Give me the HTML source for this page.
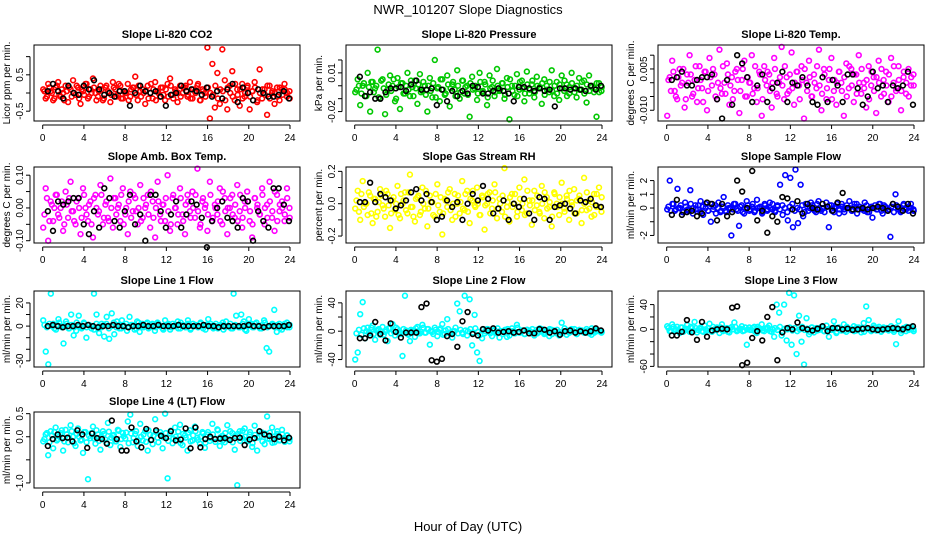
<!DOCTYPE html>
<html>
<head>
<meta charset="utf-8">
<style>
html,body{margin:0;padding:0;background:#fff;}
svg{display:block;font-family:"Liberation Sans",Arial,sans-serif;}
</style>
</head>
<body>
<svg id="chart" width="936" height="540" viewBox="0 0 936 540" xmlns="http://www.w3.org/2000/svg">
<rect x="0" y="0" width="936" height="540" fill="#fff"/>
<text x="468" y="14" text-anchor="middle" font-size="13" fill="#000">NWR_101207  Slope Diagnostics</text>
<text x="468" y="531" text-anchor="middle" font-size="13" fill="#000">Hour of Day (UTC)</text>
</svg>
<script>
// ---- data (values in display units; multiply by scale) ----
const co2Vals=[10,-15,25,5,-20,15,30,-10,0,20,-25,10,35,-5,15,-30,5,25,-15,10,40,0,-10,20,-20,15,5,-25,30,10,-5,20,-15,0,25,-10,15,45,-20,5,10,-30,20,0,-15,30,5,-10,15,-20,25,40,-5,10,-25,20,0,15,-10,30,-15,5,20,-20,10,0,125,-70,80,-40,55,-30,120,35,-45,20,60,-20,10,-35,25,-10,15,-45,5,30,-25,65,-15,10,-60,20,0,-30,15,-20,10,25,-10,5];
const co2Core=[5,-10,15,0,-15,20,-5,10,-20,5,15,-10,0,20,-15,10,-5,25,-10,0,15,-20,5,10,-15,20,0,-5,15,-10,25,-15,5,0,-20,10,15,-5,20,-10,0,5,-15,25,10,-20,0,15,-5,10,-10,20,-15,5,0,-10,15,20,-5,-15,10,0,25,-20,5,-10,15,0,-5,20,-15,10,5,-20,15,0,-10,25,-5,10,-15,0,20,-10,5,15,-20,0,10,-5,20,-15,5,0,-10,15,-5,10,0,-15];
const co2Black=[5,25,5,-15,20,0,-5,20,10,35,10,-5,0,-10,5,5,-35,0,20,5,0,5,-10,-35,-5,0,20,5,10,5,-5,15,-10,5,-15,10,25,-25,15,0,-20,10,0,-10,-10,-5,5,-15];
const presVals=[-5,5,-15,0,-8,10,-20,3,-2,28,-10,5,-22,-3,8,0,-12,6,-18,2,-6,10,-8,-1,4,-14,9,-4,0,-20,6,-9,20,-2,-12,5,-7,8,-16,1,-3,12,-10,4,-6,0,-24,7,-2,-11,10,-5,3,-15,8,-1,-8,13,-4,2,-10,6,-26,0,-7,9,-3,4,-12,11,-6,1,-9,7,-2,-14,5,0,-5,12,-8,3,-11,8,-4,1,-6,10,-2,-9,6,-3,4,-13,8,-1,-5,-24,2,-4];
const presCore=[-3,0,-6,2,-8,-1,3,-5,0,-9,4,-2,-7,1,-4,5,-10,-1,2,-6,0,-3,4,-8,-2,1,-5,3,-7,0,-4,2,-9,-1,5,-3,-6,1,-2,3,-8,0,-5,4,-1,-7,2,-3,0,-6,3,-4,1,-9,-2,4,-5,0,-3,2,-7,-1,5,-4,0,-8,3,-2,-6,1,-3,4,-5,0,-1,2,-7,-3,3,-4,0,-6,1,-2,4,-8,-1,2,-5,0,-3,3,-6,1,-4,0,-2,2,-5,-1];
const presBlack=[7,-8,-5,-10,-10,-5,-2,-2,-1,-4,1,4,-3,-3,-2,-15,-3,-12,-4,-8,-4,-6,0,-1,-6,-6,-4,-2,-4,-6,-12,-1,-1,-2,-4,-2,-4,-3,-16,-2,-2,-3,-2,-3,-4,0,-3,0];
const ltempVals=[-12,2,8,-3,-6,5,0,-9,3,10,-5,1,-7,6,-2,4,-10,9,-1,3,-6,12,-4,0,7,-8,2,-3,5,-11,1,8,-5,0,10,-2,-7,4,-12,6,-1,3,-9,9,-4,0,13,-6,2,-3,11,-8,4,-1,6,-13,0,8,-5,3,-2,12,-10,5,-6,1,9,-3,-8,4,0,-12,7,-2,5,-7,3,10,-4,0,-9,6,-1,2,-11,8,-5,1,4,-7,9,0,-3,6,-10,2,-4,5,-1,3];
const ltempCore=[1,-3,4,-5,2,-1,5,-6,0,3,-4,6,-2,1,-7,4,-3,2,5,-5,0,-2,6,-4,3,-1,-6,4,1,-3,5,-5,2,0,-4,6,-2,3,-6,1,4,-3,0,5,-5,2,-1,6,-4,3,-2,0,4,-6,1,5,-3,2,-5,0,6,-1,-4,3,-2,5,-6,1,0,4,-3,2,-5,6,-1,3,-4,0,5,-2,1,-6,4,-3,2,0,5,-4,-1,3,-5,6,-2,1,-3,4,0,-5,2,-1];
const ltempBlack=[1,2,4,-1,-1,1,2,2,3,-6,-13,1,-8,10,7,2,-7,-1,3,-7,-2,0,4,-7,0,-1,2,-1,-7,-8,2,-7,1,-1,-7,3,3,-2,-8,-5,4,-2,-1,-7,-1,-2,-1,4,-8];
const ambVals=[-6,6,-10,2,-4,4,-2,0,-7,5,-3,8,-1,-5,3,-8,6,0,-4,2,-9,4,-2,7,-5,1,-3,9,-6,3,0,-4,6,-2,-8,5,-1,3,-5,7,-3,0,4,-6,2,-9,8,-2,1,-4,10,-7,3,0,-5,6,-2,-8,4,-1,5,-3,12,-6,2,0,-7,8,-4,1,-2,6,-5,3,-8,0,4,-3,7,-1,-6,2,5,-4,-9,3,0,-2,6,-5,1,8,-3,-7,4,-1,2,-4,6,0];
const ambCore=[-2,3,-4,1,0,4,-3,2,-5,1,3,-1,-4,2,0,-3,4,-2,1,-5,3,0,-1,4,-3,2,-4,0,3,-2,1,4,-5,0,2,-3,4,-1,0,-4,3,1,-2,5,-3,0,2,-4,1,3,-1,-5,4,0,-2,3,-4,1,2,-3,0,4,-1,-5,3,1,-2,4,-3,0,2,-4,5,-1,0,3,-2,1,-4,4,-3,0,2,-1,-5,3,1,-2,4,0,-3,2,-1,5,-4,1,0,-2,3,-3];
const ambBlack=[-1,-7,2,1,2,3,3,-5,-8,-1,-6,6,3,-4,-6,-1,4,-5,-2,-10,4,4,-1,-6,-2,2,-6,-2,2,1,-3,-12,-4,0,2,-3,-4,-6,3,2,-10,-1,-4,-6,6,6,1,-4];
const rhVals=[-3,8,-10,14,0,-7,5,-12,3,-5,9,-1,-8,6,-15,2,-4,11,-9,0,7,-6,18,-2,-11,4,-7,10,-3,-14,5,1,-8,12,-5,-19,3,-2,9,-10,6,0,-6,14,-4,8,-12,2,-1,10,-7,5,-16,0,7,-3,12,-9,3,-5,22,-2,-11,6,0,-8,10,-4,15,-6,2,-13,8,-1,-5,11,-9,4,-2,-14,7,0,-7,13,-3,5,-10,1,9,-6,3,-12,16,-4,2,-8,6,-2,10,-5];
const rhCore=[2,-5,6,-2,0,7,-6,3,-8,1,5,-3,8,-1,-6,4,0,-7,6,2,-4,7,-2,-8,3,5,-5,0,8,-3,1,-7,6,-1,4,-6,2,7,-4,0,-8,5,1,-3,6,-5,3,8,-2,0,-7,4,-1,6,-6,2,7,-3,0,5,-8,1,4,-2,6,-5,3,0,-7,8,-1,2,-4,5,-6,0,7,-3,1,-8,6,-2,4,0,-5,3,8,-1,-6,2,5,-4,0,7,-3,1,-7,6,-2,4];
const rhBlack=[1,1,13,1,6,4,2,-3,-1,2,7,9,2,6,1,-10,-8,2,-2,1,-10,0,6,2,11,3,-6,-3,2,-10,0,-2,3,-6,-10,4,3,-10,-2,-1,0,-3,-6,2,1,3,-1,-2];
const sampVals=[-1,20,3,-2,14,0,-3,4,-1,13,-4,2,-1,5,-5,3,-2,-10,1,-4,4,-2,8,-3,0,-20,3,-1,-13,2,-4,5,-2,1,-3,6,0,-4,3,-2,4,-1,-3,2,17,-5,24,-9,22,-14,28,-11,17,-6,3,-2,4,-1,-3,5,-2,0,4,-14,2,-3,1,-4,3,-1,0,5,-2,3,-4,1,-1,4,-3,0,-7,2,-1,3,-4,1,-2,-21,3,10,-1,-3,2,0,-2,3,-1];
const sampCore=[1,-2,3,-1,0,2,-3,1,-2,3,0,-1,2,-3,1,0,-2,3,-1,2,0,-3,1,-2,2,0,-1,3,-2,1,-3,0,2,-1,3,-2,0,1,-3,2,-1,0,3,-2,1,-1,2,0,-3,1,3,-2,0,-1,2,-3,1,0,2,-2,3,-1,0,-3,1,2,-2,0,3,-1,1,-3,2,0,-2,1,3,-1,0,-2,2,-3,1,0,-1,3,-2,2,0,-1,1,-3,2,0,-2,3,-1,1,0,-2];
const sampBlack=[-5,6,-5,-3,-2,-6,-4,4,3,-9,3,-6,-3,20,12,0,27,-9,-2,-18,-6,-10,8,7,-1,5,-4,3,0,-1,3,1,-2,4,11,0,-1,-1,0,-1,0,1,0,-2,3,1,-2,3,-4];
const l1Vals=[5,-22,-33,28,2,-3,6,0,-15,4,-2,10,-8,-4,9,-1,3,-10,1,-2,28,10,-6,2,-9,8,-11,11,-7,4,-2,5,0,-4,8,1,-3,4,-5,2,0,3,-1,2,-4,3,0,-2,5,1,-3,2,0,4,-2,1,-1,5,-3,2,0,-1,3,-2,1,6,0,-2,2,-1,1,-3,4,0,-2,28,9,-1,10,4,-4,6,2,-1,3,0,-2,5,-19,-22,1,14,-5,2,-3,0,3,-1];
const l1Core=[1,-1,2,0,-2,1,3,-1,0,2,-2,1,-1,3,0,-2,2,-1,1,0,-3,2,0,-1,1,2,-2,0,3,-1,1,-2,0,2,-1,1,0,-2,3,0,-1,2,-2,1,0,-1,2,0,-3,1,2,-1,0,1,-2,3,0,-1,2,-2,0,1,-1,2,0,-3,1,2,-1,0,-2,1,3,-1,0,2,-2,1,0,-1,2,-3,0,1,-1,2,0,-2,1,3,-1,0,2,-1,1,-2,0,2,-1,1];
const l1Black=[0,1,0,-1,0,0,1,0,1,0,-1,0,0,1,0,0,-1,0,0,1,0,0,1,0,0,0,1,0,0,0,0,1,0,0,-1,0,0,0,0,0,1,0,0,-1,0,0,0,0,1];
const l2Vals=[-40,-30,24,41,-10,5,-3,8,-12,2,-5,6,-1,-14,4,10,-6,3,-2,-35,50,-4,-14,1,-8,6,-3,9,-2,3,-19,-1,5,-7,2,10,-4,17,-3,-9,0,39,28,-2,50,-6,45,-20,23,-30,-42,-10,-3,3,-1,-7,2,-3,-9,0,1,-8,-6,4,-3,9,-2,1,-4,2,0,-3,-6,2,-1,3,-4,0,-7,2,1,-3,-6,12,0,-5,-2,3,-1,-4,1,0,-2,3,-1,-5,2,0,1,-2];
const l2Core=[-3,2,-5,4,0,-2,5,-4,1,3,-1,-5,2,4,-3,0,5,-2,-4,3,1,-5,2,0,4,-3,-1,5,-2,3,0,-4,2,-1,4,-5,1,3,-2,0,5,-3,2,-4,1,0,3,-2,4,-1,-5,2,0,3,-3,1,-2,4,0,-4,2,3,-1,0,-3,5,-2,1,-4,2,0,3,-1,-3,4,0,-2,1,3,-4,0,2,-1,-3,4,1,-2,0,3,-4,2,1,-1,0,-3,4,-2,2,0,-1];
const l2Black=[-10,-10,-6,13,-4,-13,11,-1,-9,-2,-2,-2,34,39,-41,-43,-39,-7,-4,-22,14,27,-4,-6,3,1,4,-2,-1,0,-2,-1,1,-3,-3,3,2,-2,0,-5,0,1,-2,0,-2,0,4,1];
const l3Vals=[5,-3,8,-2,4,-6,3,-1,7,-4,2,12,-5,1,-3,6,-2,9,-4,0,3,-6,8,-1,2,-5,4,11,-3,0,5,-2,-25,3,-1,4,-6,2,8,-3,1,6,-4,-12,40,27,-10,40,-18,59,-25,55,-40,22,-20,-57,18,-8,3,-5,2,-1,4,-3,6,-12,0,13,-6,3,-2,8,-4,1,-1,5,-2,3,-5,10,37,15,-3,6,-2,1,-4,3,0,-2,5,-1,-24,13,-6,2,-3,1,4,0];
const l3Core=[2,-3,4,0,-2,3,-4,1,0,4,-3,2,-1,3,-4,0,2,-2,4,-1,0,3,-3,1,-4,2,0,4,-2,1,-3,3,0,-1,2,-4,4,0,-2,1,3,-3,0,2,-1,4,-4,1,0,3,-2,2,-3,0,4,-1,1,-4,3,0,-2,2,4,-3,0,1,-1,3,-4,2,0,-2,4,-1,1,-3,3,0,2,-4,1,0,-2,3,-1,4,-3,0,2,-1,1,-4,3,0,-2,2,4,-1,0,-3];
const l3Black=[-10,-10,-4,15,-5,-17,12,-12,-2,0,1,0,35,37,-58,-54,-14,-3,-18,20,36,-50,-5,2,0,11,2,0,-2,1,5,-3,2,2,0,1,-1,0,1,2,0,-1,0,1,2,1,0,3,5];
const l4Vals=[-10,5,-40,12,-25,20,-5,8,-30,15,-12,25,0,-20,18,-8,-35,10,-92,-3,22,-15,5,-28,12,-6,30,-18,2,-10,15,-22,8,-4,33,48,-12,6,-20,28,-8,12,-30,4,-16,38,-2,10,-25,50,-90,7,-14,20,-6,26,-18,3,-30,14,-8,22,-2,-15,10,-24,5,-9,28,-4,16,-20,2,-12,25,-6,8,-28,-105,12,-3,18,-10,5,-22,24,-30,0,9,-16,44,-5,20,-12,6,-8,15,-2,3,-10];
const l4Core=[-5,8,-12,3,10,-8,0,14,-10,5,-3,12,-14,6,0,-6,10,-12,2,8,-4,14,-9,0,6,-13,11,-2,4,-10,13,-5,1,9,-14,7,-3,12,-8,0,5,-11,14,-6,2,10,-12,4,-1,8,-9,13,-4,0,11,-14,6,-2,9,-10,3,12,-7,0,7,-13,10,-3,5,-11,14,-1,-8,8,-5,12,-12,2,6,-9,13,0,-6,10,-14,4,-2,11,-10,7,-4,9,-13,1,12,-7,5,-11,3,-4];
const l4Black=[-20,-5,5,-3,-2,-10,14,5,-24,7,-3,-5,-15,35,-5,-30,-30,20,-10,-23,17,-7,14,2,-3,12,-8,-6,18,-25,20,-23,-5,0,-5,-4,-3,-7,-3,-2,-18,-6,-3,12,5,2,-5,0,-8,-2];
const xTickVals=[0,4,8,12,16,20,24];

// ---- panel layout ----
const panels=[
 {name:'co2',title:'Slope Li-820 CO2',yl:'Licor ppm per min.',col:0,row:0,vals:co2Vals,core:co2Core,blk:co2Black,sc:0.01,lo:-0.77,hi:1.32,ticks:[-0.5,0,0.5,1],labs:{'-0.5':'-0.5','0.5':'0.5'},color:'#ff0000'},
 {name:'pressure',title:'Slope Li-820 Pressure',yl:'kPa per min.',col:1,row:0,vals:presVals,core:presCore,blk:presBlack,sc:0.001,lo:-0.0273,hi:0.0316,ticks:[-0.02,-0.01,0,0.01,0.02],labs:{'-0.02':'-0.02','0.01':'0.01'},color:'#00c800'},
 {name:'li820-temp',title:'Slope Li-820 Temp.',yl:'degrees C per min.',col:2,row:0,vals:ltempVals,core:ltempCore,blk:ltempBlack,sc:0.001,lo:-0.0139,hi:0.0137,ticks:[-0.01,-0.005,0,0.005,0.01],labs:{'-0.01':'-0.010','0.005':'0.005'},color:'#ff00ff'},
 {name:'amb-box-temp',title:'Slope Amb. Box Temp.',yl:'degrees C per min.',col:0,row:1,vals:ambVals,core:ambCore,blk:ambBlack,sc:0.01,lo:-0.107,hi:0.125,ticks:[-0.1,-0.05,0,0.05,0.1],labs:{'-0.1':'-0.10','0':'0.00','0.1':'0.10'},color:'#ff00ff'},
 {name:'gas-stream-rh',title:'Slope Gas Stream RH',yl:'percent per min.',col:1,row:1,vals:rhVals,core:rhCore,blk:rhBlack,sc:0.01,lo:-0.243,hi:0.227,ticks:[-0.2,-0.1,0,0.1,0.2],labs:{'-0.2':'-0.2','0':'0.0','0.2':'0.2'},color:'#ffff00'},
 {name:'sample-flow',title:'Slope Sample Flow',yl:'ml/min per min.',col:2,row:1,vals:sampVals,core:sampCore,blk:sampBlack,sc:0.1,lo:-2.55,hi:2.99,ticks:[-2,-1,0,1,2],labs:{'-2':'-2','0':'0','1':'1','2':'2'},color:'#0000ff'},
 {name:'line1-flow',title:'Slope Line 1 Flow',yl:'ml/min per min.',col:0,row:2,vals:l1Vals,core:l1Core,blk:l1Black,sc:1,lo:-35.3,hi:30.3,ticks:[-30,-20,-10,0,10,20],labs:{'-30':'-30','0':'0','20':'20'},color:'#00ffff'},
 {name:'line2-flow',title:'Slope Line 2 Flow',yl:'ml/min per min.',col:1,row:2,vals:l2Vals,core:l2Core,blk:l2Black,sc:1,lo:-50.5,hi:56.7,ticks:[-40,-20,0,20,40],labs:{'-40':'-40','0':'0','40':'40'},color:'#00ffff'},
 {name:'line3-flow',title:'Slope Line 3 Flow',yl:'ml/min per min.',col:2,row:2,vals:l3Vals,core:l3Core,blk:l3Black,sc:1,lo:-61,hi:62,ticks:[-60,-40,-20,0,20,40],labs:{'-60':'-60','0':'0','40':'40'},color:'#00ffff'},
 {name:'line4-flow',title:'Slope Line 4 (LT) Flow',yl:'ml/min per min.',col:0,row:3,vals:l4Vals,core:l4Core,blk:l4Black,sc:0.01,lo:-1.11,hi:0.536,ticks:[-1,-0.5,0,0.5],labs:{'-1':'-1.0','0':'0.0','0.5':'0.5'},color:'#00ffff'}
];
const colLeft=[34,346,658], rowTop=[45,167,291,412], W=266, H=76;
const NS='http://www.w3.org/2000/svg';
const svg=document.getElementById('chart');
function mk(tag,attrs,parent,text){const e=document.createElementNS(NS,tag);for(const k in attrs)e.setAttribute(k,attrs[k]);if(text!==undefined)e.textContent=text;parent.appendChild(e);return e;}

panels.forEach(p=>{
  const L=colLeft[p.col],T=rowTop[p.row];
  const g=mk('g',{},svg);
  
  
  const xS=h=>L+8.7+h*(247.3/24);
  const yS=v=>T+H-(v-p.lo)/(p.hi-p.lo)*H;
  const t=mk('text',{x:L+W/2,y:T-7,'text-anchor':'middle','font-size':'11','font-weight':'bold'},g,p.title);
  
  
  const yl=mk('text',{x:0,y:0,'text-anchor':'middle','font-size':'10',transform:`translate(${L-24},${T+H/2}) rotate(-90)`},g,p.yl);
  
  
  const pts=mk('g',{fill:'none','stroke-width':'1.6'},g);
  
  
  const n=p.vals.length;
  p.vals.forEach((v,i)=>{
    const h=0.05+i*(23.9/(n-1));
    const c=mk('circle',{cx:xS(h),cy:yS(v*p.sc),r:2.4,stroke:p.color},pts);
    
    
  });
  const nc=p.core.length;
  p.core.forEach((v,i)=>{
    const h=0.17+i*(23.8/(nc-1));
    const c=mk('circle',{cx:xS(h),cy:yS(v*p.sc),r:2.4,stroke:p.color},pts);
    
    
  });
  const bg=mk('g',{fill:'none','stroke-width':'1.6'},g);
  
  
  const m=p.blk.length;
  p.blk.forEach((v,i)=>{
    const h=0.5+i*(23.4/(m-1));
    const c=mk('circle',{cx:xS(h),cy:yS(v*p.sc),r:2.4,stroke:'#000'},bg);
    
    
  });
  const b=mk('rect',{x:L,y:T,width:W,height:H,fill:'none',stroke:'#000','stroke-width':'1'},g);
  
  
  const xa=mk('g',{},g);
  
  
  mk('line',{x1:xS(0),x2:xS(24),y1:T+H+4,y2:T+H+4,stroke:'#000'},xa);
  xTickVals.forEach(v=>{
    mk('line',{x1:xS(v),x2:xS(v),y1:T+H+4,y2:T+H+8,stroke:'#000'},xa);
    const tl=mk('text',{x:xS(v),y:T+H+20,'text-anchor':'middle','font-size':'10'},xa,String(v));
    
    
  });
  const ya=mk('g',{},g);
  
  
  const tv=p.ticks.filter(v=>v>=p.lo&&v<=p.hi);
  mk('line',{x1:L-4,x2:L-4,y1:yS(tv[0]),y2:yS(tv[tv.length-1]),stroke:'#000'},ya);
  tv.forEach(v=>{
    mk('line',{x1:L-8,x2:L-4,y1:yS(v),y2:yS(v),stroke:'#000'},ya);
    const key=String(v);
    if(p.labs[key]!==undefined){
      const tl=mk('text',{x:0,y:0,'text-anchor':'middle','font-size':'10',transform:`translate(${L-11},${yS(v)}) rotate(-90)`},ya,p.labs[key]);
      
      
    }
  });
});
</script>
</body>
</html>
